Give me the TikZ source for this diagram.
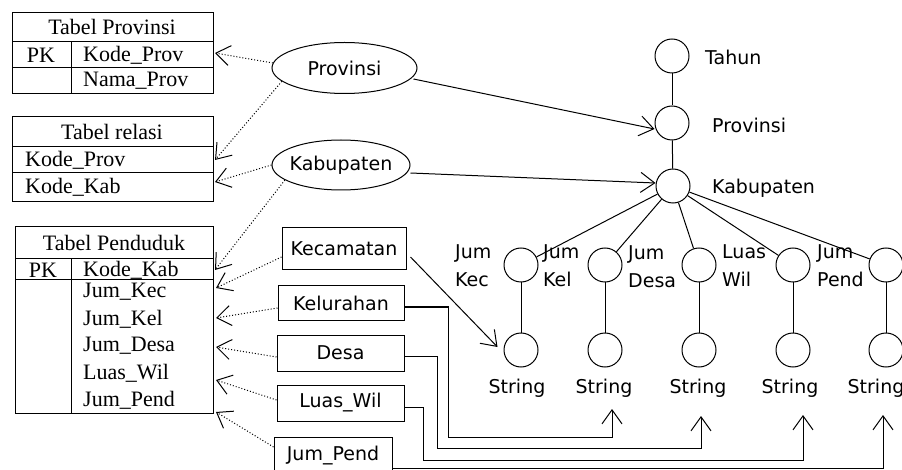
\documentclass[tikz,border=0pt]{standalone}
\usepackage{fontspec}
\newfontfamily\sansf{DejaVu Sans}
\newfontfamily\seriff{Liberation Serif}
\usetikzlibrary{arrows.meta,shapes.geometric,calc}
\tikzset{
  ln/.style={line width=1pt},
  arr/.style={line width=1pt,-{Straight Barb[length=14pt,width=20pt]}},
  dotarr/.style={line width=1pt,dash pattern=on 1pt off 2pt,-{Straight Barb[length=14pt,width=20pt]}},
  circ/.style={circle,draw,line width=1pt,minimum size=34pt,inner sep=0pt},
  sl/.style={font=\sansf\fontsize{19}{28}\selectfont,inner sep=0pt},
  tl/.style={font=\seriff\fontsize{22}{26}\selectfont,inner sep=0pt},
  bx/.style={draw,line width=1pt,font=\sansf\fontsize{19}{28}\selectfont,inner sep=2pt},
  el/.style={ellipse,draw,line width=1pt,inner xsep=-20pt,inner ysep=0pt,font=\sansf\fontsize{19}{28}\selectfont}
}
\begin{document}
\begin{tikzpicture}[x=1pt,y=-1pt]
\useasboundingbox (0,0) rectangle (902,470);
% ---- Tabel Provinsi
\draw[ln] (12,13) rectangle (213,94);
\draw[ln] (12,42) -- (213,42) (12,68) -- (213,68) (71,42) -- (71,94);
\node[tl] (tph) at (112,27) {Tabel Provinsi};
\node[tl] (tppk) at (41,55) {PK};
\node[tl,anchor=west] (tpk) at (83,55) {Kode\_Prov};
\node[tl,anchor=west] (tpn) at (83,81) {Nama\_Prov};
% ---- Tabel relasi
\draw[ln] (12,117) rectangle (213,202);
\draw[ln] (12,147) -- (213,147) (12,173) -- (213,173);
\node[tl] (trh) at (112,132) {Tabel relasi};
\node[tl,anchor=west] (trp) at (25,160) {Kode\_Prov};
\node[tl,anchor=west] (trk) at (25,187) {Kode\_Kab};
% ---- Tabel Penduduk
\draw[ln] (15,227) rectangle (213,413);
\draw[ln] (15,259) -- (213,259) (15,280) -- (213,280) (71,259) -- (71,413);
\node[tl] (tdh) at (114,243) {Tabel Penduduk};
\node[tl] (tdpk) at (43,270) {PK};
\node[tl,anchor=west] (tdk) at (83,270) {Kode\_Kab};
\node[tl,anchor=west] (td1) at (83,292) {Jum\_Kec};
\node[tl,anchor=west] (td2) at (83,319) {Jum\_Kel};
\node[tl,anchor=west] (td3) at (83,346) {Jum\_Desa};
\node[tl,anchor=west] (td4) at (83,373) {Luas\_Wil};
\node[tl,anchor=west] (td5) at (83,400) {Jum\_Pend};
% ---- arrow targets on tables
\coordinate (p1) at (215,53);
\coordinate (p2) at (215,160);
\coordinate (p3) at (215,182);
\coordinate (p4) at (215,270);
\coordinate (p5) at (216,288);
\coordinate (p6) at (216,318);
\coordinate (p7) at (216,347);
\coordinate (p8) at (216,380);
\coordinate (p9) at (216,412);
% ---- ellipses and boxes
\node[el,minimum width=145pt,minimum height=51pt] (prov) at (344.5,68) {Provinsi};
\node[el,minimum width=138pt,minimum height=50pt] (kab) at (341,165) {Kabupaten};
\node[bx,minimum width=124pt,minimum height=42pt] (kec) at (344,249) {Kecamatan};
\node[bx,minimum width=126pt,minimum height=34pt] (kel) at (341,303) {Kelurahan};
\node[bx,minimum width=127pt,minimum height=36pt] (desa) at (340.5,353) {Desa};
\node[bx,minimum width=127pt,minimum height=36pt] (luas) at (340.5,403) {Luas\_Wil};
\node[bx,minimum width=118pt,minimum height=38pt] (jump) at (333,456) {Jum\_Pend};
% ---- tree
\node[circ] (t0) at (672,56) {};
\node[circ] (t1) at (672,123) {};
\node[circ] (t2) at (673,186) {};
\draw[ln] (t0) -- (t1);
\draw[ln] (t1) -- (t2);
\node[sl,anchor=west] (l0) at (705,57) {Tahun};
\node[sl,anchor=west] (l1) at (712,125) {Provinsi};
\node[sl,anchor=west] (l2) at (712,188) {Kabupaten};
\foreach \i/\x in {1/521,2/605,3/699,4/793,5/886}{
  \node[circ] (a\i) at (\x,265) {};
  \node[circ] (b\i) at (\x,350) {};
  \draw[ln] (a\i) -- (b\i);
  \draw[ln] (t2) -- (a\i);
}
\node[sl,anchor=west,align=left] (m1) at (455,266) {Jum\\Kec};
\node[sl,anchor=west,align=left] (m2) at (543,266) {Jum\\Kel};
\node[sl,anchor=west,align=left] (m3) at (628,267) {Jum\\Desa};
\node[sl,anchor=west,align=left] (m4) at (722,266) {Luas\\Wil};
\node[sl,anchor=west,align=left] (m5) at (817,266) {Jum\\Pend};
\node[sl] (s1) at (517,388) {String};
\node[sl] (s2) at (604,388) {String};
\node[sl] (s3) at (698,388) {String};
\node[sl] (s4) at (790,388) {String};
\node[sl] (s5) at (876,388) {String};
\coordinate (k2) at (612,409);
\coordinate (k3) at (701,416);
\coordinate (k4) at (803,415);
\coordinate (k5) at (883,415);
% ---- dotted arrows to tables
\draw[dotarr] (prov.176) -- (p1);
\draw[dotarr] (prov.192) -- (p2);
\draw[dotarr] (kab.west) -- (p3);
\draw[dotarr] (kab.195) -- (p4);
\draw[dotarr] ($(kec.west)+(0,8)$) -- (p5);
\draw[dotarr] ($(kel.west)+(0,5)$) -- (p6);
\draw[dotarr] ($(desa.west)+(0,4)$) -- (p7);
\draw[dotarr] ($(luas.west)+(0,-3)$) -- (p8);
\draw[dotarr] ($(jump.west)+(0,-9)$) -- (p9);
% ---- solid arrows to tree
\draw[arr] ($(prov.east)+(-4,11)$) -- ($(t1.west)+(0,6)$);
\draw[arr] ($(kab.east)+(0,8)$) -- ($(t2.west)+(0,-3)$);
\draw[arr] ($(kec.east)+(4,8)$) -- ($(b1.west)+(-6,-3)$);
\draw[arr] ($(kel.east)+(0,4)$) -| (448,437) -| (k2);
\draw[arr] ($(desa.east)+(0,3)$) -| (437,448) -| (k3);
\draw[arr] ($(luas.east)+(0,4)$) -| (423,460) -| (k4);
\draw[arr] ($(jump.east)+(0,12)$) -| (k5);
\end{tikzpicture}
\end{document}
